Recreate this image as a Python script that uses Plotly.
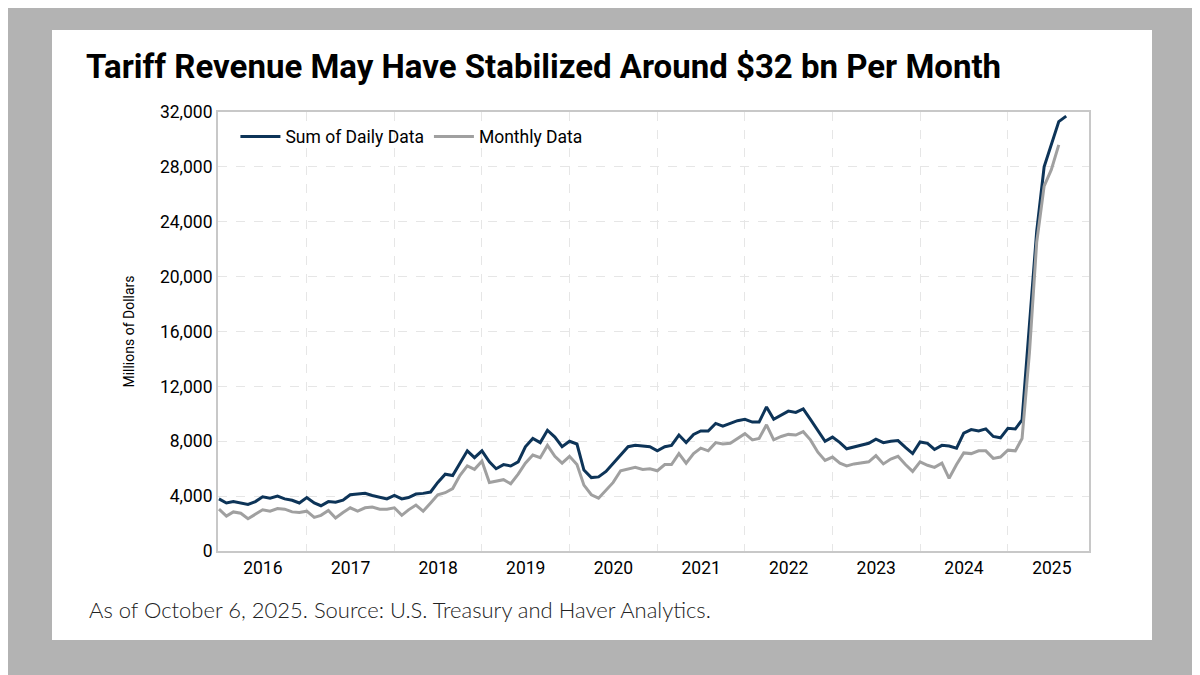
import plotly.graph_objects as go
import pandas as pd

dates_daily = pd.date_range("2016-01-01", "2025-09-01", freq="MS")
dates_monthly = pd.date_range("2016-01-01", "2025-08-01", freq="MS")

sum_daily = [
    3.8, 3.5, 3.6, 3.5, 3.4, 3.6, 3.95, 3.85, 4.0, 3.8, 3.7, 3.5,
    3.9, 3.5, 3.3, 3.6, 3.55, 3.7, 4.1, 4.15, 4.2, 4.05, 3.9, 3.8,
    4.05, 3.8, 3.9, 4.15, 4.2, 4.3, 5.0, 5.6, 5.5, 6.4, 7.3, 6.8,
    7.3, 6.5, 6.0, 6.3, 6.2, 6.5, 7.6, 8.2, 7.9, 8.8, 8.3, 7.6,
    8.0, 7.8, 5.9, 5.35, 5.4, 5.8, 6.4, 7.0, 7.6, 7.7, 7.65, 7.6,
    7.3, 7.6, 7.7, 8.45, 7.9, 8.5, 8.75, 8.75, 9.3, 9.1, 9.3, 9.5,
    9.6, 9.4, 9.4, 10.5, 9.6, 9.9, 10.2, 10.1, 10.35, 9.6, 8.8, 8.0,
    8.3, 7.9, 7.45, 7.6, 7.75, 7.85, 8.15, 7.9, 8.0, 8.05, 7.55, 7.1,
    7.95, 7.85, 7.4, 7.7, 7.65, 7.5, 8.6, 8.85, 8.75, 8.9, 8.35, 8.25,
    8.95, 8.9, 9.55, 16.4, 23.3, 28.0, 29.7, 31.3, 31.7,
]
monthly = [
    3.05, 2.55, 2.85, 2.75, 2.35, 2.7, 3.0, 2.9, 3.1, 3.05, 2.85, 2.8,
    2.9, 2.45, 2.6, 2.95, 2.4, 2.8, 3.15, 2.9, 3.15, 3.2, 3.05, 3.05,
    3.15, 2.6, 3.0, 3.35, 2.9, 3.5, 4.1, 4.25, 4.55, 5.5, 6.2, 5.95,
    6.55, 5.0, 5.1, 5.2, 4.9, 5.6, 6.4, 7.0, 6.8, 7.7, 6.9, 6.4,
    6.9, 6.3, 4.8, 4.1, 3.85, 4.45, 5.0, 5.85, 6.0, 6.1, 5.95, 6.0,
    5.85, 6.3, 6.3, 7.1, 6.4, 7.1, 7.5, 7.3, 7.9, 7.8, 7.85, 8.2,
    8.55, 8.1, 8.2, 9.2, 8.1, 8.35, 8.5, 8.45, 8.7, 8.1, 7.2, 6.6,
    6.85, 6.4, 6.2, 6.35, 6.4, 6.5, 6.95, 6.35, 6.7, 6.9, 6.3, 5.8,
    6.5, 6.25, 6.1, 6.4, 5.3, 6.3, 7.15, 7.1, 7.3, 7.3, 6.75, 6.85,
    7.35, 7.3, 8.2, 14.5, 22.5, 26.6, 27.8, 29.6,
]
sum_daily = [v * 1000 for v in sum_daily]
monthly = [v * 1000 for v in monthly]

y_ticks = [0, 4000, 8000, 12000, 16000, 20000, 24000, 28000, 32000]

fig = go.Figure()
fig.add_trace(go.Scatter(x=dates_daily, y=sum_daily, mode="lines", name="Sum of Daily Data",
                         line=dict(color="#0d3458", width=3)))
fig.add_trace(go.Scatter(x=dates_monthly, y=monthly, mode="lines", name="Monthly Data",
                         line=dict(color="#a0a0a0", width=3)))

W, H = 1200, 675
OFF = 8
L, R, T, B = 218 - OFF, 1089 - OFF, 112 - OFF, 551 - OFF
pw, ph = R - L, B - T
def px(x): return (x - OFF - L) / pw
def py(y): return (B - (y - OFF)) / ph

fig.add_shape(type="rect", xref="paper", yref="paper", layer="below",
              x0=px(52), x1=px(1152), y0=py(640), y1=py(30),
              fillcolor="white", line=dict(width=0))

fig.add_annotation(xref="paper", yref="paper", x=px(84), y=py(66), xanchor="left", yanchor="middle",
                   text="<b>Tariff Revenue May Have Stabilized Around $32 bn Per Month</b>",
                   showarrow=False, font=dict(family="Liberation Sans Narrow, Roboto", size=33, color="black"))
fig.add_annotation(xref="paper", yref="paper", x=px(87), y=py(609), xanchor="left", yanchor="middle",
                   text="As of October 6, 2025. Source: U.S. Treasury and Haver Analytics.",
                   showarrow=False, font=dict(family="Lato", size=22, color="#222", weight=300))

fig.update_layout(
    width=W, height=H,
    margin=dict(l=L, r=W - R, t=T, b=H - B),
    paper_bgcolor="#b3b3b3", plot_bgcolor="white",
    font=dict(family="Roboto", color="black"),
    showlegend=True,
    legend=dict(orientation="h", x=0.02, y=0.985, xanchor="left", yanchor="top",
                bgcolor="rgba(0,0,0,0)", font=dict(size=17.5, family="Roboto"), itemwidth=40),
    xaxis=dict(type="date", range=["2015-12-28", "2025-12-05"], dtick="M12", tick0="2016-01-01",
               tickformat="%Y", ticklabelmode="period", showgrid=True, gridcolor="#e6e6e6",
               griddash="dash", showline=True, linecolor="#c8c8c8", linewidth=2, mirror=True,
               ticks="", tickfont=dict(size=17.5), zeroline=False),
    yaxis=dict(range=[0, 32000], tickvals=y_ticks, tickformat=",d", showgrid=True,
               gridcolor="#e6e6e6", griddash="dash", showline=True, linecolor="#c8c8c8",
               linewidth=2, mirror=True, tickfont=dict(size=17.5), zeroline=False,
               title=dict(text="Millions of Dollars", font=dict(size=14), standoff=22)),
)

fig.write_html("out.html")
